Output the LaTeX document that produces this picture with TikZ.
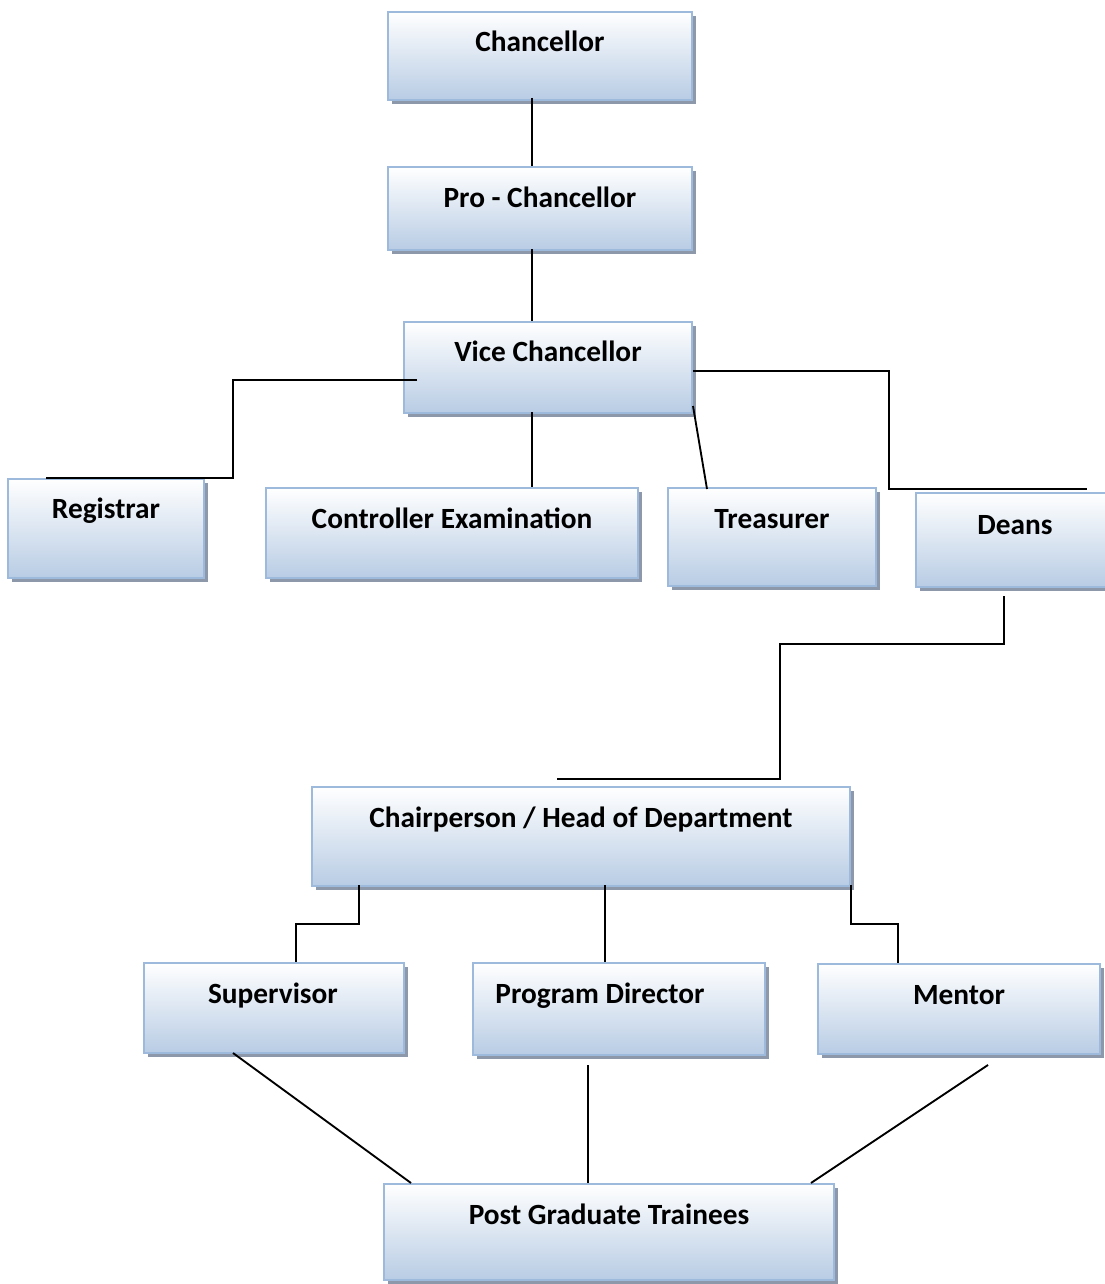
\documentclass[tikz,border=0pt]{standalone}
\usepackage{fontspec}
\setmainfont{Carlito}
\usetikzlibrary{calc,fit,shadows}

\definecolor{boxbot}{HTML}{B8CCE4}
\definecolor{boxedge}{HTML}{9DB9DC}
\definecolor{boxshade}{HTML}{8D99AB}

\tikzset{
  orgbox/.style={rectangle, inner sep=0pt, draw=boxedge, line width=1.5pt,
    top color=white, middle color=boxbot!35!white, bottom color=boxbot,
    drop shadow={shadow xshift=3pt, shadow yshift=-3pt, fill=boxshade, opacity=1}},
  boxtext/.style={anchor=base, inner sep=0pt,
    font=\bfseries\fontsize{22}{26}\selectfont},
  link/.style={draw=black, line width=1.4pt}
}

\begin{document}
\begin{tikzpicture}[x=0.75pt, y=-0.75pt]
\useasboundingbox (0,0) rectangle (1105,1284);

% boxes of the organisation chart
\node[orgbox, fit={(388,12) (692,100)}]    (chan)  {};
\node[orgbox, fit={(388,167) (692,250)}]   (pro)   {};
\node[orgbox, fit={(404,322) (692,413)}]   (vc)    {};
\node[orgbox, fit={(8,479) (204,578)}]     (reg)   {};
\node[orgbox, fit={(266,488) (638,578)}]   (ctrl)  {};
\node[orgbox, fit={(668,488) (876,586)}]   (treas) {};
\node[orgbox, fit={(916,493) (1115,587)}]  (deans) {};
\node[orgbox, fit={(312,787) (850,886)}]   (chair) {};
\node[orgbox, fit={(144,963) (404,1053)}]  (sup)   {};
\node[orgbox, fit={(473,963) (765,1055)}]  (pd)    {};
\node[orgbox, fit={(818,964) (1100,1054)}] (ment)  {};
\node[orgbox, fit={(384,1184) (834,1280)}] (pgt)   {};

% titles
\node[boxtext] (chan-t)  at (540,52)   {Chancellor};
\node[boxtext] (pro-t)   at (540,207)  {Pro - Chancellor};
\node[boxtext] (vc-t)    at (548,361)  {Vice Chancellor};
\node[boxtext] (reg-t)   at (106,518)  {Registrar};
\node[boxtext] (ctrl-t)  at (452,528)  {Controller Examination};
\node[boxtext] (treas-t) at (772,528)  {Treasurer};
\node[boxtext] (deans-t) at (1015,534) {Deans};
\node[boxtext] (chair-t) at (581,827)  {Chairperson / Head of Department};
\node[boxtext] (sup-t)   at (273,1003) {Supervisor};
\node[boxtext] (pd-t)    at (600,1003) {Program Director};
\node[boxtext] (ment-t)  at (959,1004) {Mentor};
\node[boxtext] (pgt-t)   at (609,1224) {Post Graduate Trainees};

% connectors
\coordinate (p1) at ($(chan.south)+(-8,-3)$);
\draw[link] (p1) -- (p1 |- pro.north);
\coordinate (p2) at ($(pro.south)+(-8,-2)$);
\draw[link] (p2) -- (p2 |- vc.north);
\draw[link] ($(vc.west)+(14,12.5)$) -| ($(reg.north east)+(28,0)$)
  -- ($(reg.north)+(-60,0)$);
\coordinate (p3) at ($(vc.south)+(-16,-2)$);
\draw[link] (p3) -- (p3 |- ctrl.north);
\draw[link] ($(vc.south east)+(0,-8)$) -- ($(treas.north west)+(40,2)$);
\draw[link] ($(vc.east)+(0,3.5)$) -| ($(deans.north west)+(-26,-3)$)
  -- ($(deans.north west)+(172,-3)$);
\draw[link] ($(deans.south)+(-11.5,8)$) |- ($(chair.north west)+(469,-142)$)
  |- ($(chair.north west)+(246,-7)$);
\draw[link] ($(chair.south west)+(48,-2)$) |- ($(sup.north)+(22,-38)$)
  -- ($(sup.north)+(22,0)$);
\coordinate (p4) at ($(chair.south west)+(294,-2)$);
\draw[link] (p4) -- (p4 |- pd.north);
\draw[link] ($(chair.south east)+(0,-2)$) |- ($(ment.north)+(-61,-39)$)
  -- ($(ment.north)+(-61,0)$);
\draw[link] ($(sup.south west)+(90,-1)$) -- ($(pgt.north west)+(28,0)$);
\coordinate (p5) at ($(pd.south)+(-31,9)$);
\draw[link] (p5) -- (p5 |- pgt.north);
\draw[link] ($(ment.south)+(29,10)$) -- ($(pgt.north east)+(-24,0)$);
\end{tikzpicture}
\end{document}
